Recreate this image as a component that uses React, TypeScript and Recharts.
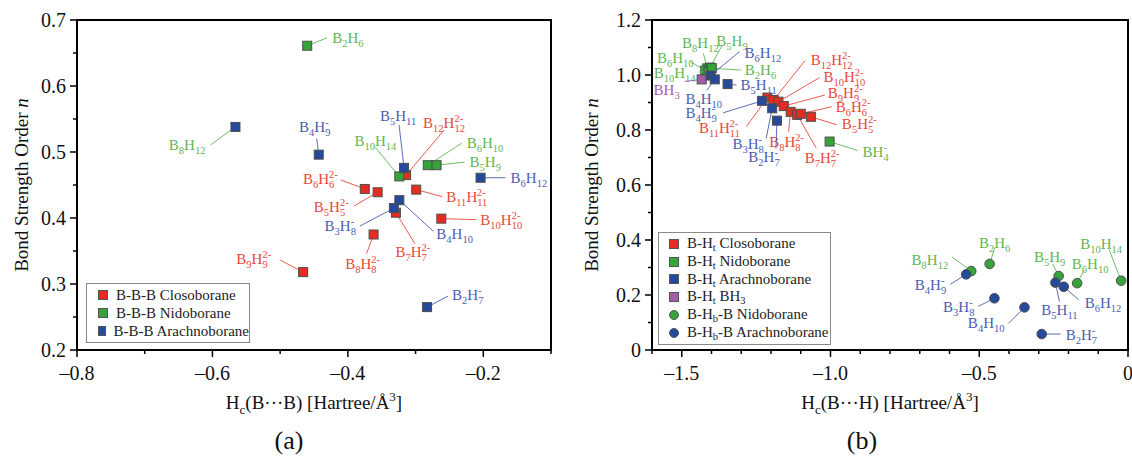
import { ScatterChart, Scatter, XAxis, YAxis, ReferenceArea, Legend, Label } from 'recharts';

const SERIF = 'Liberation Serif';

const RED = '#e62b21';
const GREEN = '#37a43a';
const BLUE = '#25499b';
const PURPLE = '#a35ca6';
const RED_TXT = '#e8473b';
const GREEN_TXT = '#5fb653';
const BLUE_TXT = '#4b5db0';
const PURPLE_TXT = '#a35daa';

// ---- panel (a): B-B-B bonds ----
const closoNamesA = ['B12H12^2-', 'B11H11^2-', 'B10H10^2-', 'B9H9^2-', 'B8H8^2-', 'B7H7^2-', 'B6H6^2-', 'B5H5^2-'];
const closoHcA = [-0.314, -0.299, -0.262, -0.466, -0.362, -0.329, -0.375, -0.356];
const closoNA = [0.465, 0.443, 0.399, 0.318, 0.375, 0.408, 0.444, 0.439];

const nidoNamesA = ['B2H6', 'B10H14', 'B6H10', 'B5H9'];
const nidoHcA = [-0.46, -0.324, -0.282, -0.269];
const nidoNA = [0.661, 0.463, 0.48, 0.48];

const arachnoNamesA = ['B8H12', 'B4H9^-', 'B5H11', 'B6H12', 'B4H10', 'B3H8^-', 'B2H7^-'];
const arachnoHcA = [-0.566, -0.443, -0.317, -0.204, -0.324, -0.332, -0.283];
const arachnoNA = [0.538, 0.496, 0.476, 0.461, 0.427, 0.415, 0.265];

// ---- panel (b): B-H bonds ----
const closoNamesB = ['B11H11^2-', 'B12H12^2-', 'B10H10^2-', 'B9H9^2-', 'B8H8^2-', 'B7H7^2-', 'B6H6^2-', 'B5H5^2-'];
const closoHcB = [-1.212, -1.191, -1.175, -1.157, -1.134, -1.112, -1.1, -1.066];
const closoNB = [0.918, 0.909, 0.903, 0.887, 0.866, 0.855, 0.859, 0.848];

const nidoNamesB = ['B8H12', 'B5H9', 'B6H10', 'B10H14', 'B2H6', 'BH4^-'];
const nidoHcB = [-1.414, -1.405, -1.421, -1.41, -1.399, -1.003];
const nidoNB = [1.024, 1.027, 1.016, 1.011, 1.025, 0.758];

const arachnoNamesB = ['B6H12', 'B4H10', 'B5H11', 'B4H9^-', 'B3H8^-', 'B2H7^-'];
const arachnoHcB = [-1.403, -1.389, -1.346, -1.23, -1.196, -1.18];
const arachnoNB = [0.998, 0.984, 0.967, 0.906, 0.879, 0.834];

const bh3NamesB = ['BH3'];
const bh3HcB = [-1.433];
const bh3NB = [0.984];

const bridgeNidoNames = ['B8H12', 'B2H6', 'B5H9', 'B6H10', 'B10H14'];
const bridgeNidoHc = [-0.527, -0.465, -0.233, -0.171, -0.023];
const bridgeNidoN = [0.287, 0.313, 0.269, 0.243, 0.252];

const bridgeArachnoNames = ['B4H9^-', 'B3H8^-', 'B4H10', 'B2H7^-', 'B5H11', 'B6H12'];
const bridgeArachnoHc = [-0.544, -0.449, -0.348, -0.29, -0.244, -0.216];
const bridgeArachnoN = [0.275, 0.188, 0.155, 0.058, 0.245, 0.23];

// axis ticks
const xTicksA = [-0.8, -0.7, -0.6, -0.5, -0.4, -0.3, -0.2, -0.1];
const xMajorA = [-0.8, -0.6, -0.4, -0.2];
const yTicksA = [0.2, 0.25, 0.3, 0.35, 0.4, 0.45, 0.5, 0.55, 0.6, 0.65, 0.7];
const yMajorA = [0.2, 0.3, 0.4, 0.5, 0.6, 0.7];
const xTicksB = [-1.6, -1.5, -1.4, -1.3, -1.2, -1.1, -1.0, -0.9, -0.8, -0.7, -0.6, -0.5, -0.4, -0.3, -0.2, -0.1, 0];
const xMajorB = [-1.5, -1.0, -0.5, 0];
const yTicksB = [0, 0.1, 0.2, 0.3, 0.4, 0.5, 0.6, 0.7, 0.8, 0.9, 1.0, 1.1, 1.2];
const yMajorB = [0, 0.2, 0.4, 0.6, 0.8, 1.0, 1.2];

const legendOrderA = ['B-B-B Closoborane', 'B-B-B Nidoborane', 'B-B-B Arachnoborane'];
const legendOrderB = ['B-H_t Closoborane', 'B-H_t Nidoborane', 'B-H_t Arachnoborane', 'B-H_t BH_3', 'B-H_b-B Nidoborane', 'B-H_b-B Arachnoborane'];

// label placement: [text dx, text dy, anchor, leader dx, leader dy, colour override]
type Place = [number, number, 'start' | 'middle' | 'end', number, number, string?];

const closoLabA: Record<string, Place> = {
  'B12H12^2-': [17, -52, 'start', 38, -45],
  'B11H11^2-': [30, 7, 'start', 26, 7],
  'B10H10^2-': [39, 1, 'start', 35, 1],
  'B9H9^2-': [-32, -13, 'end', -23, -12],
  'B8H8^2-': [-11, 29, 'middle', -7, 19],
  'B7H7^2-': [17, 39, 'middle', 19, 31],
  'B6H6^2-': [-27, -10, 'end', -24, -9],
  'B5H5^2-': [-29, 15, 'end', -24, 14],
};
const nidoLabA: Record<string, Place> = {
  B2H6: [25, -8, 'start', 20, -8],
  B10H14: [-24, -35, 'middle', -24, -29],
  B6H10: [39, -22, 'start', 34, -22],
  B5H9: [33, -3, 'start', 28, -3],
};
const arachnoLabA: Record<string, Place> = {
  B8H12: [-30, 18, 'end', -25, 18, GREEN_TXT],
  'B4H9^-': [-4, -28, 'middle', -2, -16],
  B5H11: [-6, -52, 'middle', -5, -43],
  B6H12: [30, 0, 'start', 25, 0],
  B4H10: [37, 34, 'start', 34, 31],
  'B3H8^-': [-38, 18, 'end', -34, 18],
  'B2H7^-': [25, -12, 'start', 21, -11],
};

const closoLabB: Record<string, Place> = {
  'B11H11^2-': [-48, 30, 'middle', -21, 29],
  'B12H12^2-': [37, -40, 'start', 31, -39],
  'B10H10^2-': [45, -25, 'start', 41, -24],
  'B9H9^2-': [44, -13, 'start', 41, -11],
  'B8H8^2-': [-4, 30, 'middle', -2, 20],
  'B7H7^2-': [25, 43, 'middle', 19, 33],
  'B6H6^2-': [35, -7, 'start', 31, -7],
  'B5H5^2-': [31, 7, 'start', 26, 8],
};
const nidoLabB: Record<string, Place> = {
  B8H12: [-7, -25, 'middle', -4, -15],
  B5H9: [22, -27, 'middle', 12, -22],
  B6H10: [-30, -13, 'middle', -15, -9],
  B10H14: [-13, 1, 'end', -10, 0],
  B2H6: [33, 2, 'start', 29, 2],
  'BH4^-': [33, 10, 'start', 28, 9],
};
const arachnoLabB: Record<string, Place> = {
  B6H12: [34, -23, 'start', 29, -24],
  B4H10: [-11, 20, 'middle', -8, 11],
  B5H11: [13, 1, 'start', 9, 1],
  'B4H9^-': [-61, 12, 'middle', -39, 12],
  'B3H8^-': [-24, 36, 'middle', -6, 30],
  'B2H7^-': [-13, 36, 'middle', -1, 28],
};
const bh3LabB: Record<string, Place> = {
  BH3: [-22, 11, 'end', -17, 2],
};
const bridgeNidoLab: Record<string, Place> = {
  B8H12: [-23, -11, 'end', -19, -14],
  B2H6: [5, -21, 'middle', 5, -16],
  B5H9: [-9, -19, 'middle', -6, -12],
  B6H10: [13, -19, 'middle', 7, -13],
  B10H14: [-20, -37, 'middle', -12, -31],
};
const bridgeArachnoLab: Record<string, Place> = {
  'B4H9^-': [-20, 11, 'end', -16, 10],
  'B3H8^-': [-20, 9, 'end', -16, 8],
  B4H10: [-20, 16, 'end', -16, 16],
  'B2H7^-': [24, 1, 'start', 19, 0],
  B5H11: [4, 27, 'middle', 4, 19],
  B6H12: [21, 16, 'start', 15, 13],
};

const pts = (names: string[], hc: number[], n: number[]) =>
  names.map((name, i) => ({ name, hc: hc[i], n: n[i] }));

const SUB = 10.5;

function Formula({ f, x, y, anchor, color }: { f: string; x: number; y: number; anchor: string; color: string }) {
  const [body, charge] = f.split('^');
  const parts = body.match(/[A-Z][a-z]?|\d+/g) ?? [];
  const spans: any[] = [];
  let shift = 0;
  let lastSub = '';
  parts.forEach((p, i) => {
    if (/\d/.test(p)) {
      spans.push(<tspan key={i} fontSize={SUB} dy={4 - shift}>{p}</tspan>);
      shift = 4;
      lastSub = p;
    } else {
      spans.push(<tspan key={i} dy={-shift}>{p}</tspan>);
      shift = 0;
      lastSub = '';
    }
  });
  if (charge) {
    spans.push(
      <tspan key="c" fontSize={SUB} dx={-lastSub.length * SUB * 0.5} dy={-6 - shift}>{charge}</tspan>
    );
  }
  return (
    <text x={x} y={y} textAnchor={anchor as any} fill={color} style={{ fontFamily: SERIF }} fontSize={15}>
      {spans}
    </text>
  );
}

const makeShape = (kind: 'square' | 'circle', fill: string, txt: string, place: Record<string, Place>) =>
  (props: any) => {
    const { cx, cy, payload } = props;
    const p = place[payload.name];
    const col = p && p[5] ? p[5] : txt;
    return (
      <g>
        {p && <line x1={cx} y1={cy} x2={cx + p[3]} y2={cy + p[4]} stroke={col} strokeWidth={0.9} />}
        {p && <Formula f={payload.name} x={cx + p[0]} y={cy + p[1] + 5} anchor={p[2]} color={col} />}
        {kind === 'square' ? (
          <rect x={cx - 4.5} y={cy - 4.5} width={9} height={9} fill={fill} stroke="#4d4d4d" strokeWidth={1} />
        ) : (
          <circle cx={cx} cy={cy} r={4.8} fill={fill} stroke="#4d4d4d" strokeWidth={1} />
        )}
      </g>
    );
  };

const isMajor = (list: number[], v: number) => list.some((m) => Math.abs(m - v) < 1e-6);

const makeXTick = (majors: number[]) => (props: any) => {
  const { x, y, payload } = props;
  const v = payload.value;
  const major = isMajor(majors, v);
  return (
    <g>
      <line x1={x} y1={y} x2={x} y2={y + (major ? 7 : 4)} stroke="#000" strokeWidth={1.5} />
      {major && (
        <text x={x} y={y + 30} textAnchor="middle" style={{ fontFamily: SERIF }} fontSize={20} fill="#111">
          {v < 0 ? '\u2013' + Math.abs(v).toFixed(1) : '0'}
        </text>
      )}
    </g>
  );
};

const makeYTick = (majors: number[], zeroPlain: boolean) => (props: any) => {
  const { x, y, payload } = props;
  const v = payload.value;
  const major = isMajor(majors, v);
  return (
    <g>
      <line x1={x} y1={y} x2={x - (major ? 7 : 4)} y2={y} stroke="#000" strokeWidth={1.5} />
      {major && (
        <text x={x - 11} y={y + 7} textAnchor="end" style={{ fontFamily: SERIF }} fontSize={20} fill="#111">
          {zeroPlain && v === 0 ? '0' : v.toFixed(1)}
        </text>
      )}
    </g>
  );
};

const XTitle = ({ vb, atom, caption, capX }: any) => {
  const box = vb ?? { x: 0, y: 350, width: 0 };
  return (
    <g style={{ fontFamily: SERIF }} fill="#111">
      <text x={box.x + box.width / 2} y={box.y + 59} textAnchor="middle" fontSize={19} style={{ fontFamily: SERIF }}>
        H<tspan fontSize={13} dy={5}>c</tspan>
        <tspan dy={-5}>(B···{atom}) [Hartree/Å</tspan>
        <tspan fontSize={13} dy={-8}>3</tspan>
        <tspan dy={8}>]</tspan>
      </text>
      <text x={capX} y={449} textAnchor="middle" fontSize={26} style={{ fontFamily: SERIF }}>{caption}</text>
    </g>
  );
};

const YTitle = ({ x, y }: { x: number; y: number }) => (
  <text
    x={x}
    y={y}
    transform={`rotate(-90, ${x}, ${y})`}
    textAnchor="middle"
    dominantBaseline="central"
    style={{ fontFamily: SERIF }}
    fontSize={19}
    fill="#111"
  >
    Bond Strength Order <tspan fontStyle="italic">n</tspan>
  </text>
);

const legendText = (s: string) =>
  s.split(/(_[a-z0-9])/).map((part, i) =>
    part.startsWith('_') ? (
      <sub key={i} style={{ fontSize: '0.7em', lineHeight: 0, verticalAlign: '-0.3em' }}>{part.slice(1)}</sub>
    ) : (
      <span key={i}>{part}</span>
    )
  );

const LegendBox = ({ payload, order, width, rowH, padLeft }: any) => {
  const items = [...(payload ?? [])].sort((a: any, b: any) => order.indexOf(a.value) - order.indexOf(b.value));
  return (
    <div
      style={{
        width,
        boxSizing: 'border-box',
        border: '1px solid #8a8a8a',
        background: '#fff',
        padding: `2px 0 2px ${padLeft}px`,
        fontFamily: SERIF,
        fontSize: 15,
        lineHeight: `${rowH}px`,
        color: '#222',
        whiteSpace: 'nowrap',
      }}
    >
      {items.map((e: any) => (
        <div key={e.value} style={{ height: rowH, display: 'flex', alignItems: 'center' }}>
          <span
            style={{
              display: 'inline-block',
              width: 8,
              height: 8,
              background: e.color,
              border: '1px solid #555',
              borderRadius: e.type === 'circle' ? '50%' : 0,
              marginRight: 8,
            }}
          />
          <span>{legendText(e.value)}</span>
        </div>
      ))}
    </div>
  );
};

const AXIS = { stroke: '#000', strokeWidth: 2 };

export default function App() {
  return (
    <div style={{ position: 'absolute', left: 0, top: 0, width: 1132, height: 457, background: '#fff', fontFamily: SERIF }}>
      <div style={{ position: 'absolute', left: 0, top: 0 }}>
        <ScatterChart width={560} height={457} margin={{ top: 20, right: 9, bottom: 47, left: 17 }} style={{ fontFamily: SERIF }}>
          <XAxis
            type="number"
            dataKey="hc"
            domain={[-0.8, -0.1]}
            ticks={xTicksA}
            interval={0}
            height={60}
            tickSize={0}
            tickMargin={0}
            tickLine={false}
            axisLine={AXIS}
            tick={makeXTick(xMajorA)}
          >
            <Label content={(p: any) => <XTitle vb={p.viewBox} atom="B" caption="(a)" capX={289} />} />
          </XAxis>
          <YAxis
            type="number"
            dataKey="n"
            domain={[0.2, 0.7]}
            ticks={yTicksA}
            interval={0}
            width={60}
            tickSize={0}
            tickMargin={0}
            tickLine={false}
            axisLine={AXIS}
            tick={makeYTick(yMajorA, false)}
          >
            <Label content={() => <YTitle x={21} y={185} />} />
          </YAxis>
          <ReferenceArea x1={-0.8} x2={-0.1} y1={0.2} y2={0.7} fill="none" fillOpacity={0} stroke="#000" strokeWidth={2} ifOverflow="visible" />
          <Scatter name="B-B-B Closoborane" data={pts(closoNamesA, closoHcA, closoNA)} fill={RED} legendType="square"
            shape={makeShape('square', RED, RED_TXT, closoLabA)} isAnimationActive={false} />
          <Scatter name="B-B-B Nidoborane" data={pts(nidoNamesA, nidoHcA, nidoNA)} fill={GREEN} legendType="square"
            shape={makeShape('square', GREEN, GREEN_TXT, nidoLabA)} isAnimationActive={false} />
          <Scatter name="B-B-B Arachnoborane" data={pts(arachnoNamesA, arachnoHcA, arachnoNA)} fill={BLUE} legendType="square"
            shape={makeShape('square', BLUE, BLUE_TXT, arachnoLabA)} isAnimationActive={false} />
          <Legend
            layout="vertical"
            align="center"
            verticalAlign="middle"
            wrapperStyle={{ left: 86, top: 283, width: 164 }}
            content={(p: any) => <LegendBox payload={p.payload} order={legendOrderA} width={164} rowH={18} padLeft={11} />}
          />
        </ScatterChart>
      </div>

      <div style={{ position: 'absolute', left: 560, top: 0 }}>
        <ScatterChart width={572} height={457} margin={{ top: 20, right: 4, bottom: 47, left: 32 }} style={{ fontFamily: SERIF }}>
          <XAxis
            type="number"
            dataKey="hc"
            domain={[-1.6, 0]}
            ticks={xTicksB}
            interval={0}
            height={60}
            tickSize={0}
            tickMargin={0}
            tickLine={false}
            axisLine={AXIS}
            tick={makeXTick(xMajorB)}
          >
            <Label content={(p: any) => <XTitle vb={p.viewBox} atom="H" caption="(b)" capX={302} />} />
          </XAxis>
          <YAxis
            type="number"
            dataKey="n"
            domain={[0, 1.2]}
            ticks={yTicksB}
            interval={0}
            width={60}
            tickSize={0}
            tickMargin={0}
            tickLine={false}
            axisLine={AXIS}
            tick={makeYTick(yMajorB, true)}
          >
            <Label content={() => <YTitle x={31} y={185} />} />
          </YAxis>
          <ReferenceArea x1={-1.6} x2={0} y1={0} y2={1.2} fill="none" fillOpacity={0} stroke="#000" strokeWidth={2} ifOverflow="visible" />
          <Scatter name="B-H_t Closoborane" data={pts(closoNamesB, closoHcB, closoNB)} fill={RED} legendType="square"
            shape={makeShape('square', RED, RED_TXT, closoLabB)} isAnimationActive={false} />
          <Scatter name="B-H_t Nidoborane" data={pts(nidoNamesB, nidoHcB, nidoNB)} fill={GREEN} legendType="square"
            shape={makeShape('square', GREEN, GREEN_TXT, nidoLabB)} isAnimationActive={false} />
          <Scatter name="B-H_t BH_3" data={pts(bh3NamesB, bh3HcB, bh3NB)} fill={PURPLE} legendType="square"
            shape={makeShape('square', PURPLE, PURPLE_TXT, bh3LabB)} isAnimationActive={false} />
          <Scatter name="B-H_t Arachnoborane" data={pts(arachnoNamesB, arachnoHcB, arachnoNB)} fill={BLUE} legendType="square"
            shape={makeShape('square', BLUE, BLUE_TXT, arachnoLabB)} isAnimationActive={false} />
          <Scatter name="B-H_b-B Nidoborane" data={pts(bridgeNidoNames, bridgeNidoHc, bridgeNidoN)} fill={GREEN} legendType="circle"
            shape={makeShape('circle', GREEN, GREEN_TXT, bridgeNidoLab)} isAnimationActive={false} />
          <Scatter name="B-H_b-B Arachnoborane" data={pts(bridgeArachnoNames, bridgeArachnoHc, bridgeArachnoN)} fill={BLUE} legendType="circle"
            shape={makeShape('circle', BLUE, BLUE_TXT, bridgeArachnoLab)} isAnimationActive={false} />
          <Legend
            layout="vertical"
            align="center"
            verticalAlign="middle"
            wrapperStyle={{ left: 98, top: 232, width: 173 }}
            content={(p: any) => <LegendBox payload={p.payload} order={legendOrderB} width={173} rowH={17.8} padLeft={10} />}
          />
        </ScatterChart>
      </div>
    </div>
  );
}
